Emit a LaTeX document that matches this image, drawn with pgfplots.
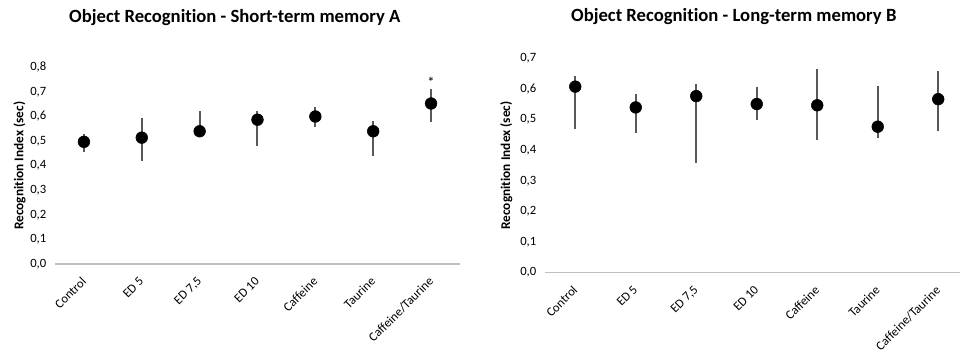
\documentclass[border=0pt]{standalone}
\usepackage{fontspec}
\setmainfont{Carlito}[RawFeature=-liga]
\usepackage{pgfplots}
\usepackage{pgfplotstable}
\pgfplotsset{compat=1.18}
\definecolor{errgray}{HTML}{595959}
\definecolor{axgray}{HTML}{BFBFBF}

\pgfplotstableread{
x y ep em
0 0.497 0.032 0.040
1 0.514 0.078 0.094
2 0.540 0.082 0.025
3 0.587 0.037 0.106
4 0.600 0.040 0.043
5 0.540 0.043 0.101
6 0.653 0.059 0.074
}\shortterm

\pgfplotstableread{
x y ep em
0 0.608 0.035 0.138
1 0.540 0.044 0.083
2 0.577 0.039 0.218
3 0.551 0.057 0.053
4 0.547 0.120 0.114
5 0.477 0.133 0.036
6 0.567 0.093 0.104
}\longterm

\pgfplotsset{
  orstyle/.style={
    scale only axis,
    anchor=south west,
    xmin=-0.5, ymin=0,
    xtick={0,...,6},
    xticklabels={Control,ED 5,{ED 7,5},ED 10,Caffeine,Taurine,Caffeine/Taurine},
    axis lines*=left,
    y axis line style={draw=none},
    x axis line style={draw=axgray, line width=1.4pt},
    major tick length=0pt,
    tick label style={font=\fontsize{9.5}{11}\selectfont},
    xticklabel style={rotate=45, anchor=north east, inner sep=1pt, xshift=-3.5pt},
    xticklabel shift=5pt,
    yticklabel style={/pgf/number format/fixed, /pgf/number format/fixed zerofill,
      /pgf/number format/precision=1, /pgf/number format/use comma,
      /pgf/number format/assume math mode=true, xshift=-3pt},
    ylabel={Recognition Index (sec)},
    ylabel style={font=\bfseries\fontsize{10}{12}\selectfont},
    title style={font=\bfseries\fontsize{14}{16}\selectfont, anchor=base, at={(rel axis cs:0.5,1)}},
    clip=false,
  },
  orplot/.style={
    only marks, mark=*, mark size=4.4pt,
    mark options={fill=black, draw=black},
    error bars/.cd, y dir=both, y explicit,
    error bar style={errgray, line width=1.5pt},
    error mark=none,
  },
}

\begin{document}
\begin{tikzpicture}
\path[use as bounding box] (0,0) rectangle (720pt,268.5pt);

\begin{axis}[orstyle,
  at={(41.25pt,70.5pt)},
  width=303.75pt, height=147.5pt,
  xmax=6.5, ymax=0.8,
  ytick={0,0.1,0.2,0.3,0.4,0.5,0.6,0.7,0.8},
  ylabel style={at={(rel axis cs:0,0.5)}, anchor=center, rotate=0, yshift=26.5pt},
  title={Object Recognition - Short-term memory A},
  title style={xshift=-17pt, yshift=28pt},
]
\addplot+[orplot] table[x=x, y=y, y error plus=ep, y error minus=em] {\shortterm};
\node[font=\fontsize{11}{12}\selectfont] at (axis cs:6,0.738) {*};
\end{axis}

\begin{axis}[orstyle,
  at={(408.75pt,64.125pt)},
  width=311.25pt, height=160.5pt,
  xmax=6.36, ymax=0.7,
  ytick={0,0.1,0.2,0.3,0.4,0.5,0.6,0.7},
  ylabel style={at={(rel axis cs:0,0.5)}, anchor=center, yshift=29pt},
  title={Object Recognition - Long-term memory B},
  title style={xshift=-14pt, yshift=21.5pt},
]
\addplot+[orplot] table[x=x, y=y, y error plus=ep, y error minus=em] {\longterm};
\end{axis}
\end{tikzpicture}
\end{document}
